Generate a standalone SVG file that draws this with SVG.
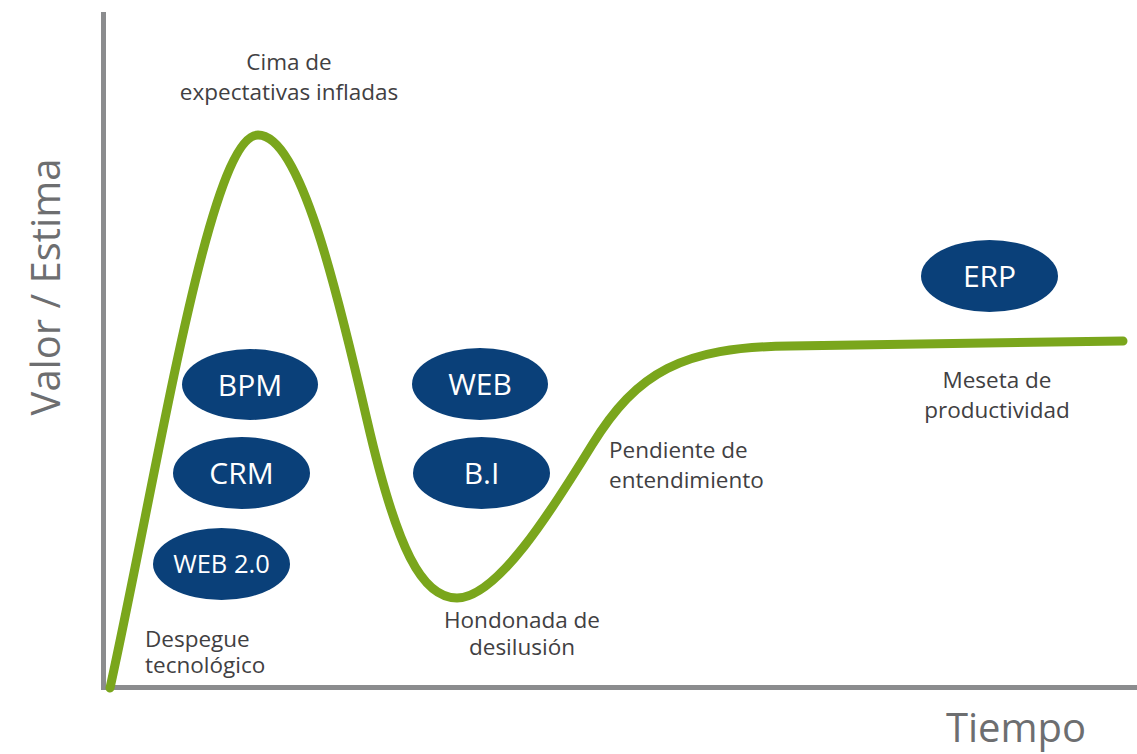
<svg xmlns="http://www.w3.org/2000/svg" width="1137" height="754" viewBox="0 0 1137 754">
<style>
.lbl{font-family:"Open Sans","Liberation Sans",sans-serif;font-size:22.5px;fill:#414042}
.ax{font-family:"Open Sans","Liberation Sans",sans-serif;font-size:40px;fill:#6d6e70}
.pill{fill:#0a4079}
.pt{font-family:"Open Sans","Liberation Sans",sans-serif;font-size:30px;fill:#ffffff;text-anchor:middle}
.axis{stroke:#8b8c8e;stroke-width:5;fill:none}
</style>
<rect width="1137" height="754" fill="#ffffff"/>
<g id="axes">
<line class="axis" x1="103.5" y1="12" x2="103.5" y2="690"/>
<line class="axis" x1="101" y1="687.5" x2="1137" y2="687.5"/>
<text class="ax" transform="translate(60,287) rotate(-90)" text-anchor="middle">Valor / Estima</text>
<text class="ax" x="1016" y="742" text-anchor="middle">Tiempo</text>
</g>
<g id="connectors">
<path d="M110,688 C160,460 210,135 258,135 C300,135 337,290 367,420 C397,550 422,598 457,598 C497,598 552,510 592,445 C637,372 682,347 790,346 L1123,341" fill="none" stroke="#7aa61c" stroke-width="9" stroke-linecap="round" stroke-linejoin="round"/>
</g>
<g id="labels">
<text class="lbl" x="289" y="70" text-anchor="middle">Cima de</text>
<text class="lbl" x="289" y="100" text-anchor="middle">expectativas infladas</text>
<text class="lbl" x="145" y="647">Despegue</text>
<text class="lbl" x="145" y="673">tecnológico</text>
<text class="lbl" x="522" y="628" text-anchor="middle">Hondonada de</text>
<text class="lbl" x="522" y="655" text-anchor="middle">desilusión</text>
<text class="lbl" x="609" y="458">Pendiente de</text>
<text class="lbl" x="609" y="488">entendimiento</text>
<text class="lbl" x="997" y="388" text-anchor="middle">Meseta de</text>
<text class="lbl" x="997" y="418" text-anchor="middle">productividad</text>
</g>
<g id="node-bpm"><ellipse class="pill" cx="250" cy="384.5" rx="68" ry="35.5"/><text class="pt" x="250" y="395.5">BPM</text></g>
<g id="node-crm"><ellipse class="pill" cx="241.5" cy="473" rx="68.5" ry="36"/><text class="pt" x="241.5" y="484">CRM</text></g>
<g id="node-web20"><ellipse class="pill" cx="221.5" cy="564" rx="68.5" ry="36"/><text class="pt" x="221.5" y="573" style="font-size:25.5px">WEB 2.0</text></g>
<g id="node-web"><ellipse class="pill" cx="480" cy="384" rx="68" ry="36"/><text class="pt" x="480" y="395">WEB</text></g>
<g id="node-bi"><ellipse class="pill" cx="481.5" cy="473" rx="68.5" ry="36"/><text class="pt" x="481.5" y="484">B.I</text></g>
<g id="node-erp"><ellipse class="pill" cx="989.5" cy="276" rx="68.5" ry="36"/><text class="pt" x="989.5" y="287">ERP</text></g>
</svg>
